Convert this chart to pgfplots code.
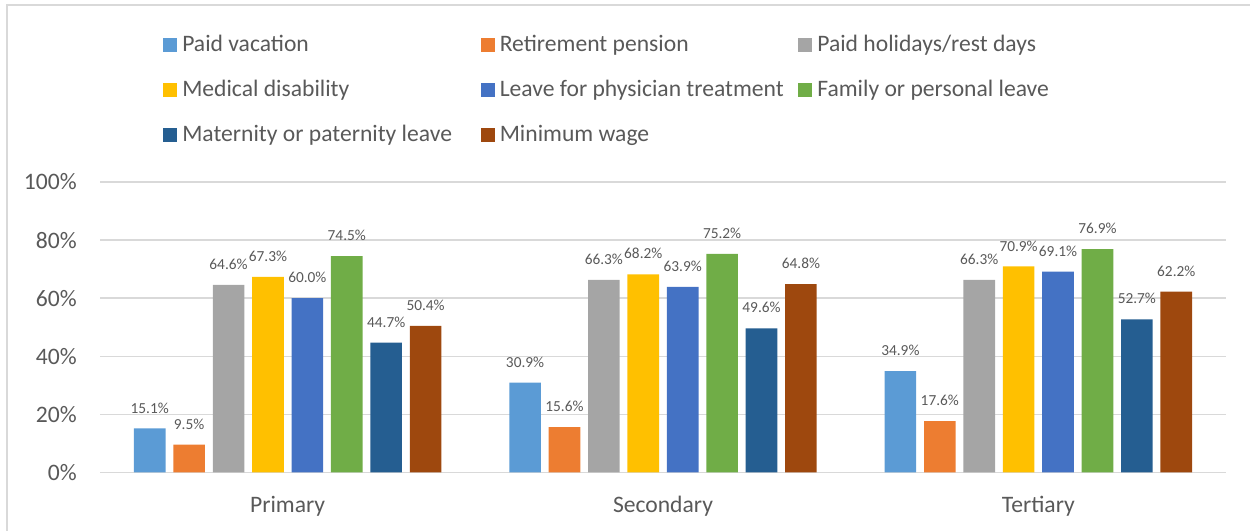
\documentclass[border=0pt]{standalone}
\usepackage{fontspec}
\setmainfont{Carlito}
\usepackage{pgfplots}
\pgfplotsset{compat=1.18}
\definecolor{c1}{HTML}{5B9BD5}
\definecolor{c2}{HTML}{ED7D31}
\definecolor{c3}{HTML}{A5A5A5}
\definecolor{c4}{HTML}{FFC000}
\definecolor{c5}{HTML}{4472C4}
\definecolor{c6}{HTML}{70AD47}
\definecolor{c7}{HTML}{255E91}
\definecolor{c8}{HTML}{9E480E}
\definecolor{txt}{HTML}{595959}
\definecolor{grd}{HTML}{D9D9D9}

\pgfplotstableread{
x   pv    rp    ph    md    lp    fl    ml    mw
0   15.1  9.5   64.6  67.3  60.0  74.5  44.7  50.4
1   30.9  15.6  66.3  68.2  63.9  75.2  49.6  64.8
2   34.9  17.6  66.3  70.9  69.1  76.9  52.7  62.2
}\edu

\newcommand{\lw}[1]{\makebox[223.9pt][l]{#1}}
% one bar series: #1 = shift in axis units, #2 = same shift in pt (for the label)
\pgfplotsset{bb/.style 2 args={ybar, bar width=0.0842, bar shift=#1, draw=none,
  every node near coord/.append style={xshift=#2}}}

\begin{document}
\begin{tikzpicture}
\useasboundingbox (0,0) rectangle (937.5pt,398.25pt);
% chart area border (cut at the image edge)
\draw[grd, line width=1pt] (5.25pt,-10pt) -- (5.25pt,394.5pt) -- (950pt,394.5pt);
\begin{axis}[
  at={(75pt,44pt)}, anchor=south west,
  scale only axis, width=844.5pt, height=217.75pt,
  xmin=-0.5, xmax=2.5, ymin=0, ymax=100,
  xtick={0,1,2}, xticklabels={Primary,Secondary,Tertiary},
  ytick={0,20,40,60,80,100},
  yticklabel={\pgfmathprintnumber{\tick}\%},
  /pgf/number format/assume math mode=true,
  major tick length=0pt,
  axis line style={draw=none},
  ymajorgrids, grid style={grd, line width=1pt},
  tick label style={font=\fontsize{17.7}{20}\selectfont, text=txt, inner sep=0pt},
  yticklabel style={anchor=east, xshift=-17.25pt},
  xticklabel style={anchor=base, yshift=-29.8pt},
  nodes near coords={\pgfmathprintnumber[fixed,fixed zerofill,precision=1]{\pgfplotspointmeta}\%},
  every node near coord/.append style={font=\fontsize{11.5}{13}\selectfont, text=txt, anchor=south, inner sep=0pt, yshift=11.25pt},
  legend columns=3,
  legend cell align=left,
  legend style={draw=none, fill=none, at={(0.05595,1.5085)}, anchor=north west,
    inner sep=0pt, column sep=0pt, row sep=18.25pt,
    font=\fontsize{17.7}{20}\selectfont, text=txt,
    nodes={inner sep=0pt, text height=13pt, text depth=2.5pt}},
  legend image code/.code={\fill[#1] (0pt,-5.15pt) rectangle (10.3pt,5.15pt); \path (14.25pt,0pt);},
]
\addplot[bb={-0.3675}{-103.46pt}, fill=c1] table[x=x,y=pv] {\edu};
\addlegendentry{\lw{Paid vacation}}
\addplot[bb={-0.2625}{-73.90pt}, fill=c2] table[x=x,y=rp] {\edu};
\addlegendentry{\lw{Retirement pension}}
\addplot[bb={-0.1575}{-44.34pt}, fill=c3] table[x=x,y=ph] {\edu};
\addlegendentry{Paid holidays/rest days}
\addplot[bb={-0.0525}{-14.78pt}, fill=c4] table[x=x,y=md] {\edu};
\addlegendentry{\lw{Medical disability}}
\addplot[bb={0.0525}{14.78pt}, fill=c5] table[x=x,y=lp] {\edu};
\addlegendentry{\lw{Leave for physician treatment}}
\addplot[bb={0.1575}{44.34pt}, fill=c6] table[x=x,y=fl] {\edu};
\addlegendentry{Family or personal leave}
\addplot[bb={0.2625}{73.90pt}, fill=c7] table[x=x,y=ml] {\edu};
\addlegendentry{\lw{Maternity or paternity leave}}
\addplot[bb={0.3675}{103.46pt}, fill=c8] table[x=x,y=mw] {\edu};
\addlegendentry{\lw{Minimum wage}}
\end{axis}
\end{tikzpicture}
\end{document}
